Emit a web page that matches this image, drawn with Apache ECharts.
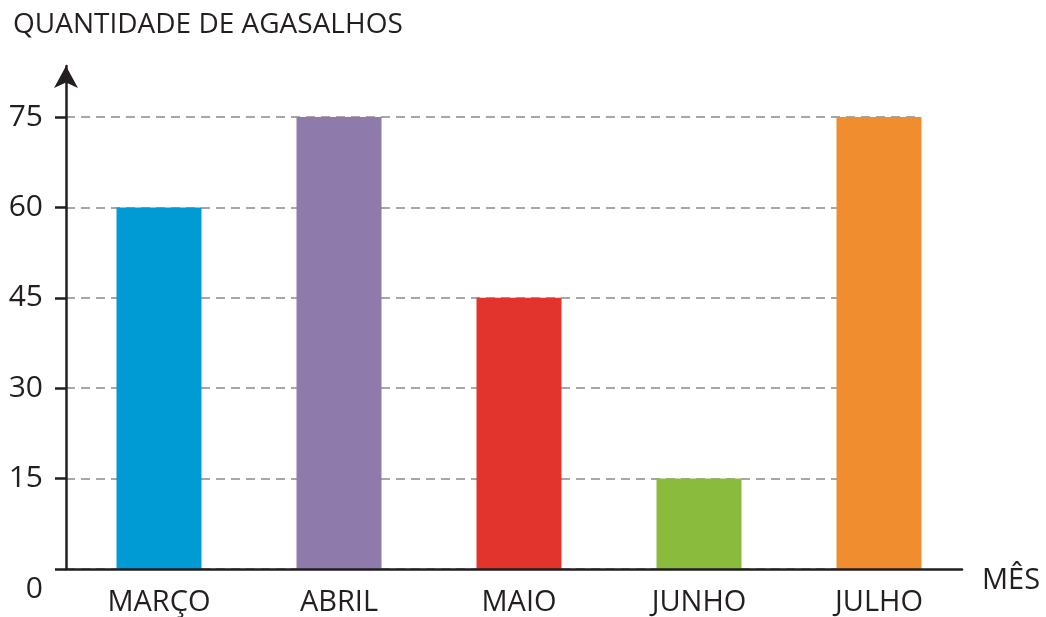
<!DOCTYPE html>
<html>
<head>
<meta charset="utf-8">
<script src="https://cdn.jsdelivr.net/npm/echarts@6/dist/echarts.min.js"></script>
<style>
  html, body { margin: 0; padding: 0; background: #fff; }
  #chart { width: 1046px; height: 617px; }
</style>
</head>
<body>
<div id="chart"></div>
<script>
// dados do gráfico
var meses = ['MARÇO', 'ABRIL', 'MAIO', 'JUNHO', 'JULHO'];
var agasalhos = [60, 75, 45, 15, 75];
var cores = ['#009bd5', '#8e7bab', '#e3332d', '#8bbb3c', '#f08d2e'];
var escalaMax = 75;
var escalaPasso = 15;

var tinta = '#231f20';
var fonte = '"Open Sans", "Noto Sans", sans-serif';

var myChart = echarts.init(document.getElementById('chart'));

var option = {
	animation : false,
	title : {
		text : 'QUANTIDADE DE AGASALHOS',
		left : 8,
		top : 6,
		textStyle : {
			color : tinta,
			fontFamily : fonte,
			fontSize : 28,
			fontWeight : 'normal'
		}
	},
	grid : [
		// barras
		{ left : 69, right : 77, top : 117, bottom : 48 },
		// linhas de grade e rótulos
		{ left : 66, right : 125, top : 117, bottom : 48 },
		// eixos com seta
		{ left : 66, right : 84, top : 66, bottom : 48 }
	],
	xAxis : [
		{
			gridIndex : 0,
			type : 'category',
			data : meses,
			axisLine : { show : false },
			axisTick : { show : false },
			axisLabel : {
				margin : 19,
				color : tinta,
				fontFamily : fonte,
				fontSize : 29
			}
		},
		{ gridIndex : 1, type : 'value', min : 0, max : 1, show : false },
		{
			gridIndex : 2,
			type : 'value',
			min : 0,
			max : 1,
			z : 5,
			axisLine : { show : true, lineStyle : { color : tinta, width : 2.5 } },
			axisTick : { show : false },
			axisLabel : { show : false },
			splitLine : { show : false },
			name : 'MÊS',
			nameLocation : 'end',
			nameGap : 20,
			nameTextStyle : {
				color : tinta,
				fontFamily : fonte,
				fontSize : 29,
				verticalAlign : 'top',
				padding : [-3, 0, 0, 0]
			}
		}
	],
	yAxis : [
		{ gridIndex : 0, type : 'value', min : 0, max : escalaMax, show : false },
		{
			gridIndex : 1,
			type : 'value',
			min : 0,
			max : escalaMax,
			interval : escalaPasso,
			axisLine : { show : false },
			axisTick : { show : true, length : 11, lineStyle : { color : tinta, width : 2.5 } },
			axisLabel : {
				margin : 23,
				color : tinta,
				fontFamily : fonte,
				fontSize : 30,
				formatter : function (v) {
					return v === 0 ? '{zero|0}' : String(v);
				},
				rich : {
					zero : {
						color : tinta,
						fontFamily : fonte,
						fontSize : 30,
						padding : [40, 0, 0, 0]
					}
				}
			},
			splitLine : {
				show : true,
				lineStyle : { color : '#8a8a8a', width : 1.5, type : [9, 6] }
			}
		},
		{
			gridIndex : 2,
			type : 'value',
			min : 0,
			max : 1,
			z : 5,
			axisLine : {
				show : true,
				symbol : ['none', 'arrow'],
				symbolSize : [18, 22],
				lineStyle : { color : tinta, width : 2.5 }
			},
			axisTick : { show : false },
			axisLabel : { show : false },
			splitLine : { show : false }
		}
	],
	series : [ {
		type : 'bar',
		xAxisIndex : 0,
		yAxisIndex : 0,
		barWidth : 85,
		data : agasalhos.map(function (v, i) {
			return { value : v, itemStyle : { color : cores[i] } };
		})
	} ]
};

myChart.setOption(option);
</script>
</body>
</html>
